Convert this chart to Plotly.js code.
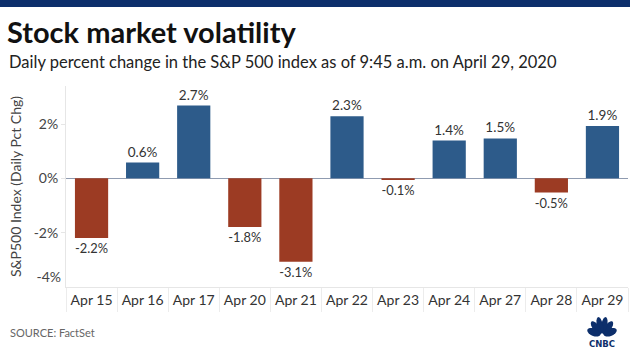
<!DOCTYPE html>
<html><head><meta charset="utf-8">
<script src="https://cdn.plot.ly/plotly-3.0.1.min.js"></script>
<style>html,body{margin:0;padding:0;background:#fff}#chart{width:630px;height:354px}</style>
</head><body><div id="chart"></div>
<script>
const categories = ["Apr 15","Apr 16","Apr 17","Apr 20","Apr 21","Apr 22","Apr 23","Apr 24","Apr 27","Apr 28","Apr 29"];
const pctChange = [-2.20, 0.58, 2.68, -1.79, -3.07, 2.29, -0.06, 1.39, 1.47, -0.52, 1.93];
const yTickVals = [-4, -2, 0, 2];
const yTickText = ["-4%", "-2%", "0%", "2%"];

const UP = "#2d5b8a", DOWN = "#9c3b23";
const L = 66, R = 628, T = 86, B = 287, W = 630, H = 354;
const px = x => (x - L) / (R - L);
const py = y => (B - y) / (B - T);

const FONT = "Lato, 'Open Sans', sans-serif";
const NAVY = "#0d2f6b";

const trace = {
  type: "bar",
  x: categories,
  y: pctChange,
  marker: {color: pctChange.map(v => v >= 0 ? UP : DOWN), line: {width: 0}},
  texttemplate: "%{y:.1f}%",
  textposition: "outside",
  textfont: {family: FONT, size: 13.5, color: "#333"},
  cliponaxis: false,
  hoverinfo: "skip"
};

const shapes = [
  {type: "rect", xref: "paper", yref: "paper", x0: px(0), x1: px(W), y0: py(0), y1: py(7), fillcolor: NAVY, line: {width: 0}, layer: "above"}
];
const cx = 602, cy = 335;
for (let i = 0; i < 6; i++) {
  const a = (16 + i * 29.6) * Math.PI / 180;
  const d = 10, la = 8.5, wb = 3.8;
  const mx = cx + Math.cos(a) * d * 0.85, my = cy - Math.sin(a) * d;
  let p = "";
  for (let k = 0; k <= 24; k++) {
    const t = k / 24 * 2 * Math.PI;
    const u = Math.cos(t) * la, v = Math.sin(t) * wb;
    const X = mx + (u * Math.cos(a) - v * Math.sin(a)) * 0.8;
    const Y = my - (u * Math.sin(a) + v * Math.cos(a));
    p += (k === 0 ? "M" : "L") + px(X).toFixed(5) + "," + py(Y).toFixed(5);
  }
  p += "Z";
  shapes.push({type: "path", xref: "paper", yref: "paper", path: p, fillcolor: NAVY, line: {width: 0}, layer: "above"});
}

const layout = {
  width: W, height: H,
  margin: {l: L, r: W - R, t: T, b: H - B, pad: 0},
  paper_bgcolor: "#fff", plot_bgcolor: "#fff",
  font: {family: FONT, color: "#444"},
  showlegend: false,
  bargap: 0.35,
  title: {text: "<b>Stock market volatility</b>", font: {family: FONT, size: 29, color: "#111"},
          xref: "container", yref: "container", x: 7 / W, xanchor: "left", y: 1 - 33 / H, yanchor: "middle"},
  xaxis: {
    type: "category",
    tickson: "boundaries", ticks: "outside", ticklen: 24, tickcolor: "#ececec", tickwidth: 1,
    showline: true, linecolor: "#e6e6e6", linewidth: 1,
    showgrid: false, zeroline: false,
    tickfont: {family: FONT, size: 14, color: "#333"},
    ticklabelstandoff: 0
  },
  yaxis: {
    range: [-4, 3.4],
    tickvals: yTickVals.slice(1), ticktext: yTickText.slice(1),
    ticks: "outside", ticklen: 4, tickcolor: "#e6e6e6",
    showline: true, linecolor: "#e6e6e6", linewidth: 1,
    showgrid: false,
    zeroline: true, zerolinecolor: "#8f9bb0", zerolinewidth: 1.5,
    tickfont: {family: FONT, size: 14, color: "#444"},
    title: {text: "S&P500 Index (Daily Pct Chg)", font: {family: FONT, size: 14, color: "#444"}, standoff: 8}
  },
  yaxis2: {
    overlaying: "y", range: [-4, 3.4], side: "left",
    tickvals: yTickVals.slice(0, 1), ticktext: yTickText.slice(0, 1),
    ticks: "", showline: false, showgrid: false, zeroline: false,
    ticklabelshift: -10, ticklabelstandoff: 4,
    tickfont: {family: FONT, size: 14, color: "#444"}
  },
  shapes: shapes,
  annotations: [
    {text: "Daily percent change in the S&P 500 index as of 9:45 a.m. on April 29, 2020", xref: "paper", yref: "paper",
     x: px(7), y: py(62), xanchor: "left", yanchor: "middle", showarrow: false,
     font: {family: FONT, size: 16.5, color: "#222"}},
    {text: "SOURCE: FactSet", xref: "paper", yref: "paper", x: px(8), y: py(332), xanchor: "left", yanchor: "middle",
     showarrow: false, font: {family: FONT, size: 11, color: "#666"}},
    {text: "<b>CNBC</b>", xref: "paper", yref: "paper", x: px(602), y: py(344), xanchor: "center", yanchor: "middle",
     showarrow: false, font: {family: "'DejaVu Sans', sans-serif", size: 8.5, color: NAVY}}
  ]
};

const trace2 = {type: "scatter", x: [], y: [], yaxis: "y2", hoverinfo: "skip"};
Plotly.newPlot("chart", [trace, trace2], layout, {displayModeBar: false, staticPlot: true});
</script></body></html>
